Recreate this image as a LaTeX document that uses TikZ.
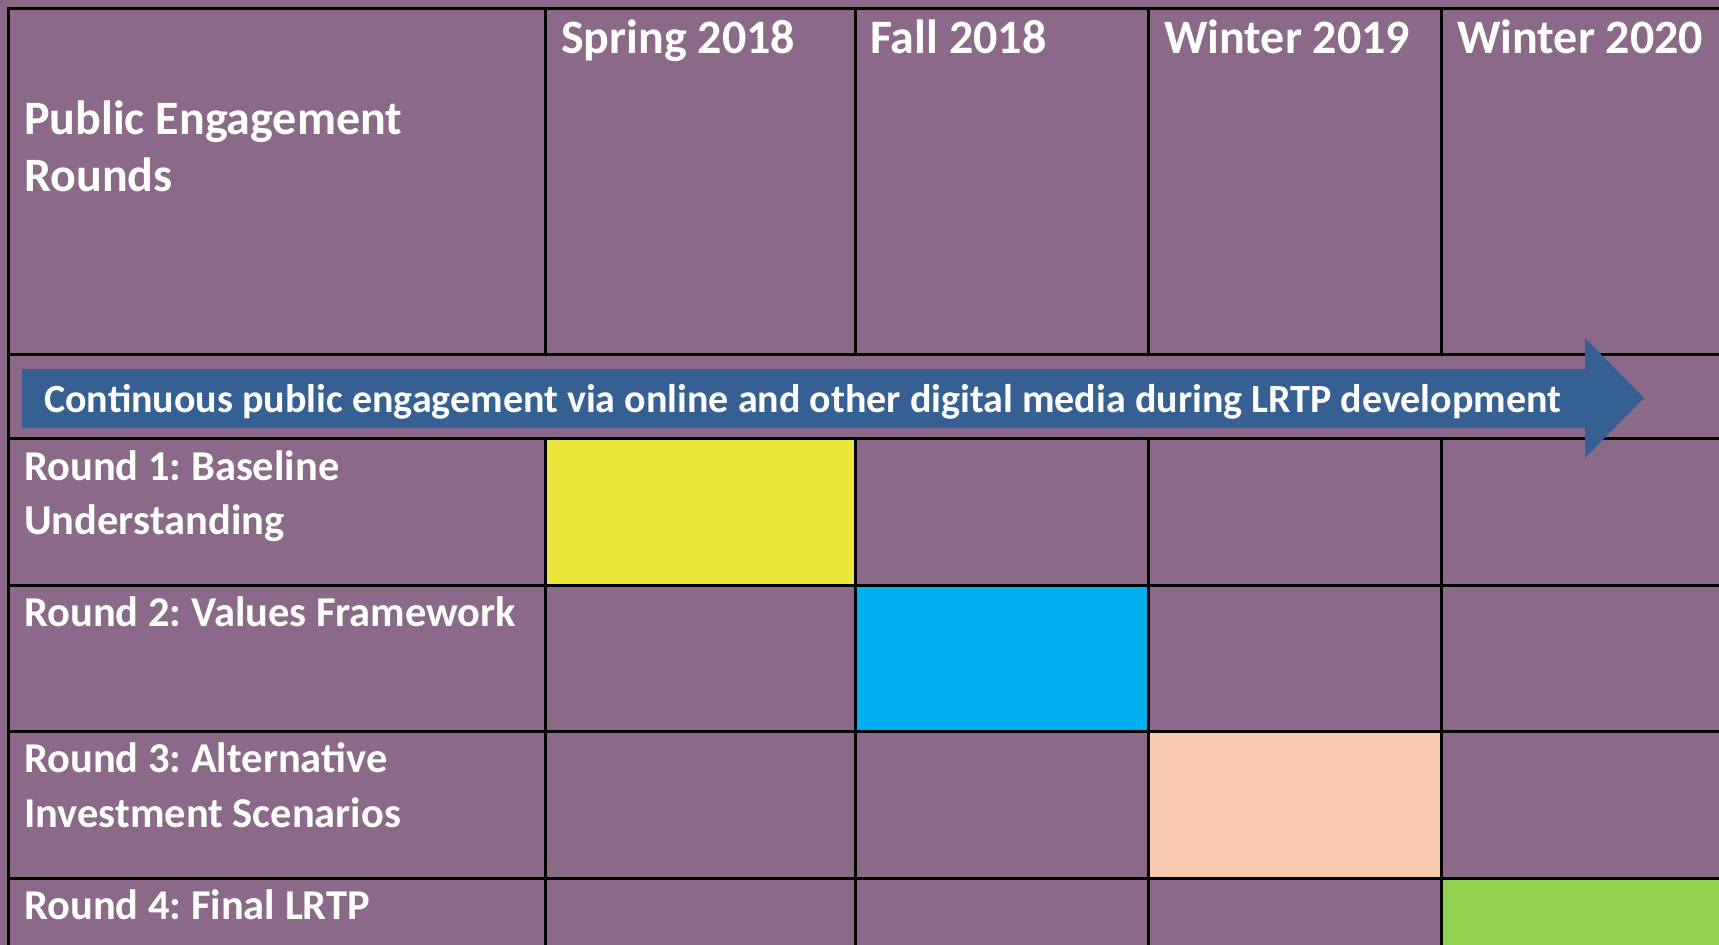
\documentclass[tikz,border=0pt]{standalone}
\usepackage{fontspec}
\setmainfont{Carlito}
\frenchspacing
\definecolor{bgpurple}{RGB}{138,106,136}
\definecolor{arrowblue}{RGB}{55,96,146}
\definecolor{cyellow}{RGB}{234,231,58}
\definecolor{ccyan}{RGB}{0,176,240}
\definecolor{cpeach}{RGB}{248,203,173}
\definecolor{cgreen}{RGB}{146,208,80}
\tikzset{
  gridline/.style={draw=black, line width=3pt},
  headtext/.style={anchor=base west, inner sep=0pt, text=white, font=\fontsize{48}{57}\selectfont\bfseries},
  rowtext/.style={anchor=base west, inner sep=0pt, text=white, font=\fontsize{42.5}{54}\selectfont\bfseries},
  arrowtext/.style={anchor=base west, inner sep=0pt, text=white, font=\fontsize{40}{48}\selectfont\bfseries},
}
\begin{document}
\begin{tikzpicture}[x=1pt,y=-1pt]
\fill[bgpurple] (0,0) rectangle (1719,945);
\useasboundingbox (0,0) rectangle (1719,945);
% coloured cells
\fill[cyellow] (545,438) rectangle (855,585);
\fill[ccyan] (855,585) rectangle (1148,731);
\fill[cpeach] (1148,731) rectangle (1441,878);
\fill[cgreen] (1441,878) rectangle (1719,945);
% grid
\draw[gridline] (8,945) -- (8,8) -- (1719,8);
\foreach \yy in {354,438,585,731,878} {\draw[gridline] (8,\yy) -- (1719,\yy);}
\foreach \xx in {545,855,1148,1441} {
  \draw[gridline] (\xx,8) -- (\xx,354);
  \draw[gridline] (\xx,438) -- (\xx,945);
}
% arrow
\fill[arrowblue] (22,369) -- (1585,369) -- (1585,338) -- (1644,398) -- (1585,458) -- (1585,428) -- (22,428) -- cycle;
\node[arrowtext] (arr) at (44,412) {Continuous public engagement via online and other digital media during LRTP development};
% headers
\node[headtext] (h0a) at (24,134) {Public Engagement};
\node[headtext] (h0b) at (24,191) {Rounds};
\node[headtext] (h1) at (561,53) {Spring 2018};
\node[headtext] (h2) at (870,53) {Fall 2018};
\node[headtext] (h3) at (1164,53) {Winter 2019};
\node[headtext] (h4) at (1457,53) {Winter 2020};
% rows
\node[rowtext] (r1a) at (24,480) {Round 1: Baseline};
\node[rowtext] (r1b) at (24,534) {Understanding};
\node[rowtext] (r2) at (24,626) {Round 2: Values Framework};
\node[rowtext] (r3a) at (24,772) {Round 3: Alternative};
\node[rowtext] (r3b) at (24,827) {Investment Scenarios};
\node[rowtext] (r4) at (24,919) {Round 4: Final LRTP};
\end{tikzpicture}
\end{document}
